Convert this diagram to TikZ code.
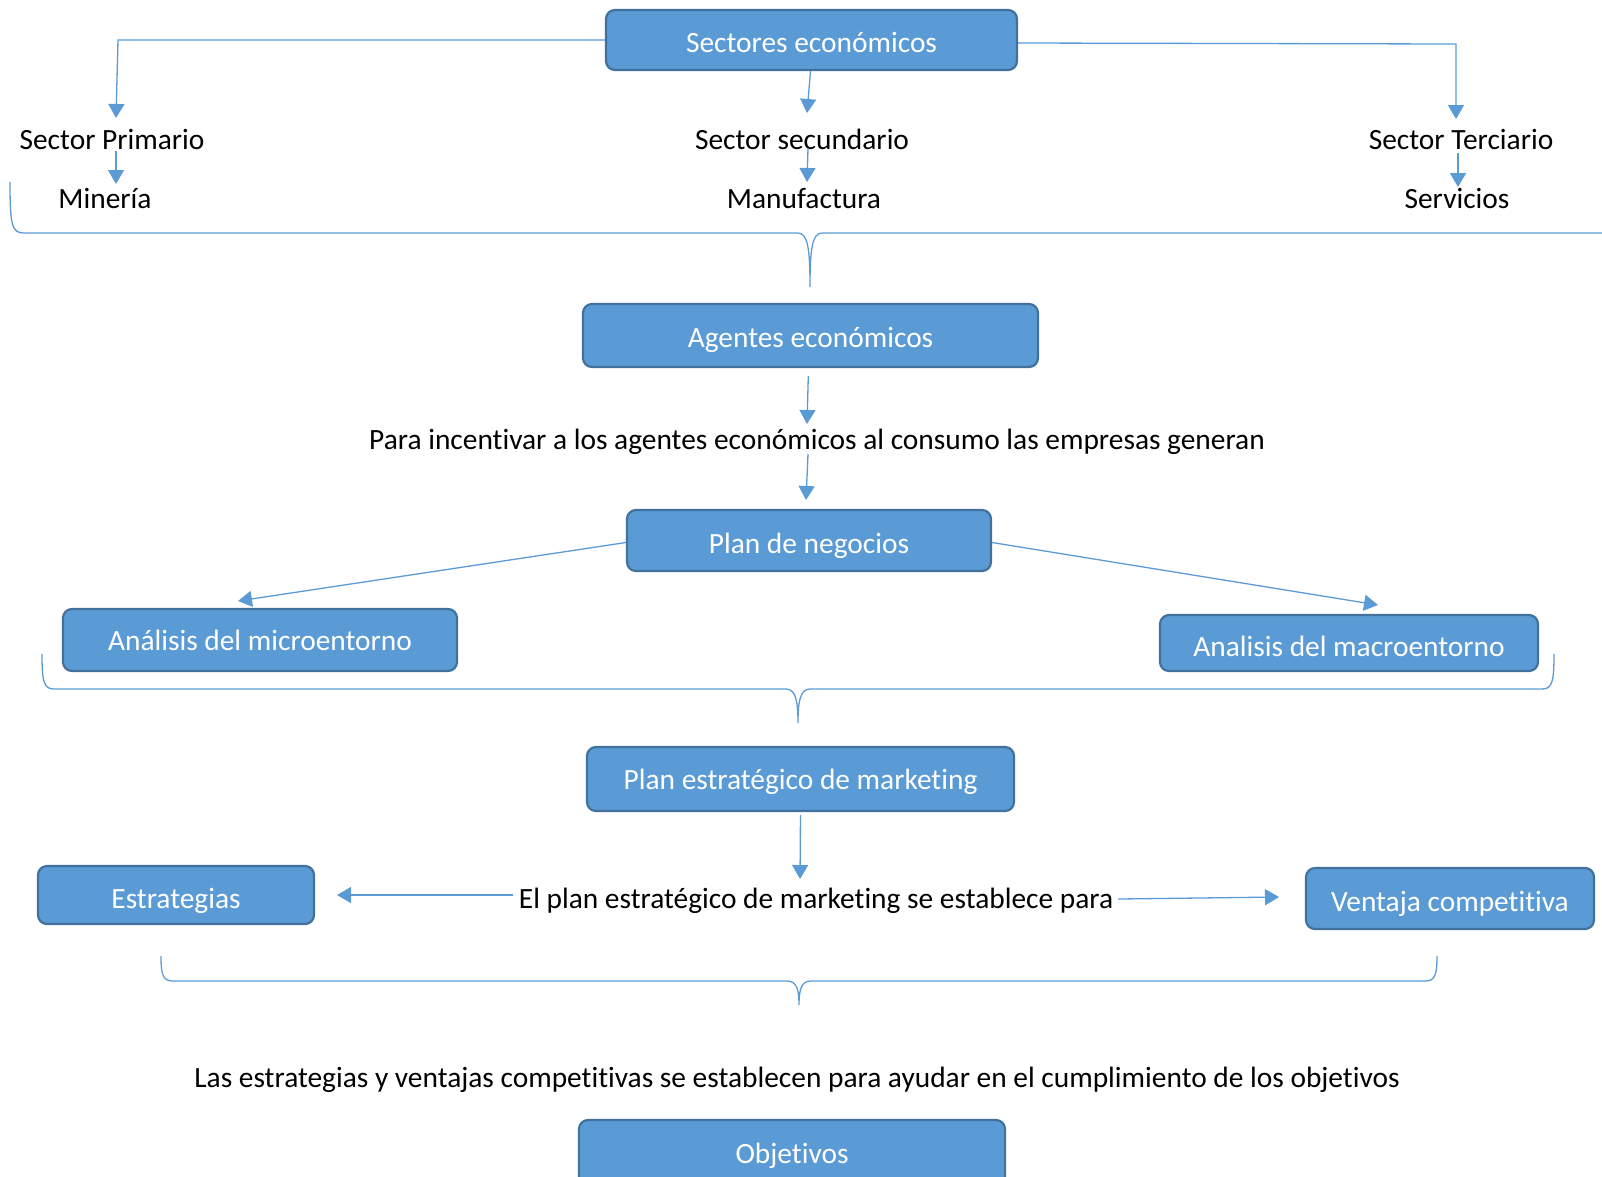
\documentclass[tikz,border=0pt]{standalone}
\usepackage{fontspec}
\setmainfont{Carlito}[Ligatures={NoCommon}]
\usetikzlibrary{arrows.meta}
\definecolor{boxblue}{HTML}{5B9BD5}
\definecolor{boxedge}{HTML}{41719C}
\definecolor{lineblue}{HTML}{5B9BD5}
\begin{document}
\begin{tikzpicture}[x=1pt,y=-1pt,
  box/.style={draw=boxedge, fill=boxblue, line width=2.2pt, rounded corners=9pt, text=white, inner sep=0pt, text depth=0pt, font=\fontsize{29.4}{34}\selectfont},
  plain/.style={inner sep=0pt, anchor=base, font=\fontsize{29.4}{34}\selectfont},
  conn/.style={draw=lineblue, line width=1.3pt},
  arr/.style={conn, -{Triangle[width=16pt,length=14pt]}},
  brace/.style={draw=lineblue, line width=1.3pt}]
\useasboundingbox (0,0) rectangle (1602,1176);

% ---------- boxes ----------
\node[box, minimum width=411pt, minimum height=60pt, text height=24pt] (sec) at (811.5,40) {Sectores económicos};
\node[box, minimum width=455pt, minimum height=63pt, text height=23pt] (age) at (810.5,335.5) {Agentes económicos};
\node[box, minimum width=364pt, minimum height=61pt, text height=25pt] (plan) at (809,540.5) {Plan de negocios};
\node[box, minimum width=394pt, minimum height=62pt, text height=20pt] (micro) at (260,640) {Análisis del microentorno};
\node[box, minimum width=378pt, minimum height=56pt, text height=26pt] (macro) at (1349,643) {Analisis del macroentorno};
\node[box, minimum width=427pt, minimum height=64pt, text height=20pt] (pem) at (800.5,779) {Plan estratégico de marketing};
\node[box, minimum width=276pt, minimum height=58pt, text height=26pt] (estr) at (176,895) {Estrategias};
\node[box, minimum width=288pt, minimum height=61pt, text height=25pt] (vent) at (1450,898.5) {Ventaja competitiva};
\node[box, minimum width=426pt, minimum height=75pt, text height=11pt] (obj) at (792,1157.5) {Objetivos};

% ---------- plain texts ----------
\node[plain] (sp)  at (112,149) {Sector Primario};
\node[plain] (ss)  at (802,149) {Sector secundario};
\node[plain] (st)  at (1461,149) {Sector Terciario};
\node[plain] (min) at (105,208) {Minería};
\node[plain] (man) at (804,208) {Manufactura};
\node[plain] (ser) at (1457,208) {Servicios};
\node[plain] (para) at (817,449) {Para incentivar a los agentes económicos al consumo las empresas generan};
\node[plain] (elp) at (816,908) {El plan estratégico de marketing se establece para};
\node[plain] (las) at (797,1087) {Las estrategias y ventajas competitivas se establecen para ayudar en el cumplimiento de los objetivos};

% ---------- connector points ----------
\coordinate (spC) at (118,40);
\coordinate (spTip) at (116,118);
\coordinate (ssTip) at (807,113);
\coordinate (stC) at (1456,44);
\coordinate (stTip) at (1456,119);
\coordinate (spB) at (116,151);
\coordinate (minT) at (116,184);
\coordinate (ssB) at (808,148);
\coordinate (manT) at (807,182);
\coordinate (stB) at (1458,153);
\coordinate (serT) at (1458,187);
\coordinate (paraT) at (807,424);
\coordinate (paraB) at (808,454);
\coordinate (planT) at (806,500);
\coordinate (microT) at (238,601);
\coordinate (macroT) at (1378,605);
\coordinate (elT) at (800,879);
\coordinate (elL) at (513,895);
\coordinate (estrT) at (337,895);
\coordinate (elR) at (1118,899);
\coordinate (ventT) at (1279,897);

% ---------- connectors ----------
\draw[arr] (sec.west) -- (spC) -- (spTip);
\draw[arr] ([xshift=-1pt]sec.south) -- (ssTip);
\draw[arr] ([yshift=-3pt]sec.east) -- (stC) -- (stTip);
\draw[arr] (spB) -- (minT);
\draw[arr] (ssB) -- (manT);
\draw[arr] (stB) -- (serT);
\draw[arr, shorten <=8pt] ([xshift=-2pt]age.south) -- (paraT);
\draw[arr] (paraB) -- (planT);
\draw[arr] ([yshift=-2pt]plan.west) -- (microT);
\draw[arr] ([yshift=-2pt]plan.east) -- (macroT);
\draw[arr, shorten <=3pt] (pem.south) -- (elT);
\draw[arr] (elL) -- (estrT);
\draw[arr] (elR) -- (ventT);

% ---------- braces ----------
\coordinate (b1) at (810,287);
\coordinate (b2) at (798,723);
\coordinate (b3) at (799,1005);
\draw[brace] (10,182) .. controls (10,226) and (12,233) .. (24,233) -- (798,233)
  .. controls (808,233) and (810,250) .. (b1)
  .. controls (810,250) and (812,233) .. (822,233) -- (1620,233);
\draw[brace] (42,654) .. controls (42,682) and (44,689) .. (54,689) -- (786,689)
  .. controls (796,689) and (798,702) .. (b2)
  .. controls (798,702) and (800,689) .. (810,689) -- (1542,689)
  .. controls (1552,689) and (1554,682) .. (1554,654);
\draw[brace] (161,956) .. controls (161,975) and (163,981) .. (173,981) -- (787,981)
  .. controls (797,981) and (799,990) .. (b3)
  .. controls (799,990) and (801,981) .. (811,981) -- (1425,981)
  .. controls (1435,981) and (1437,975) .. (1437,956);
\end{tikzpicture}
\end{document}
